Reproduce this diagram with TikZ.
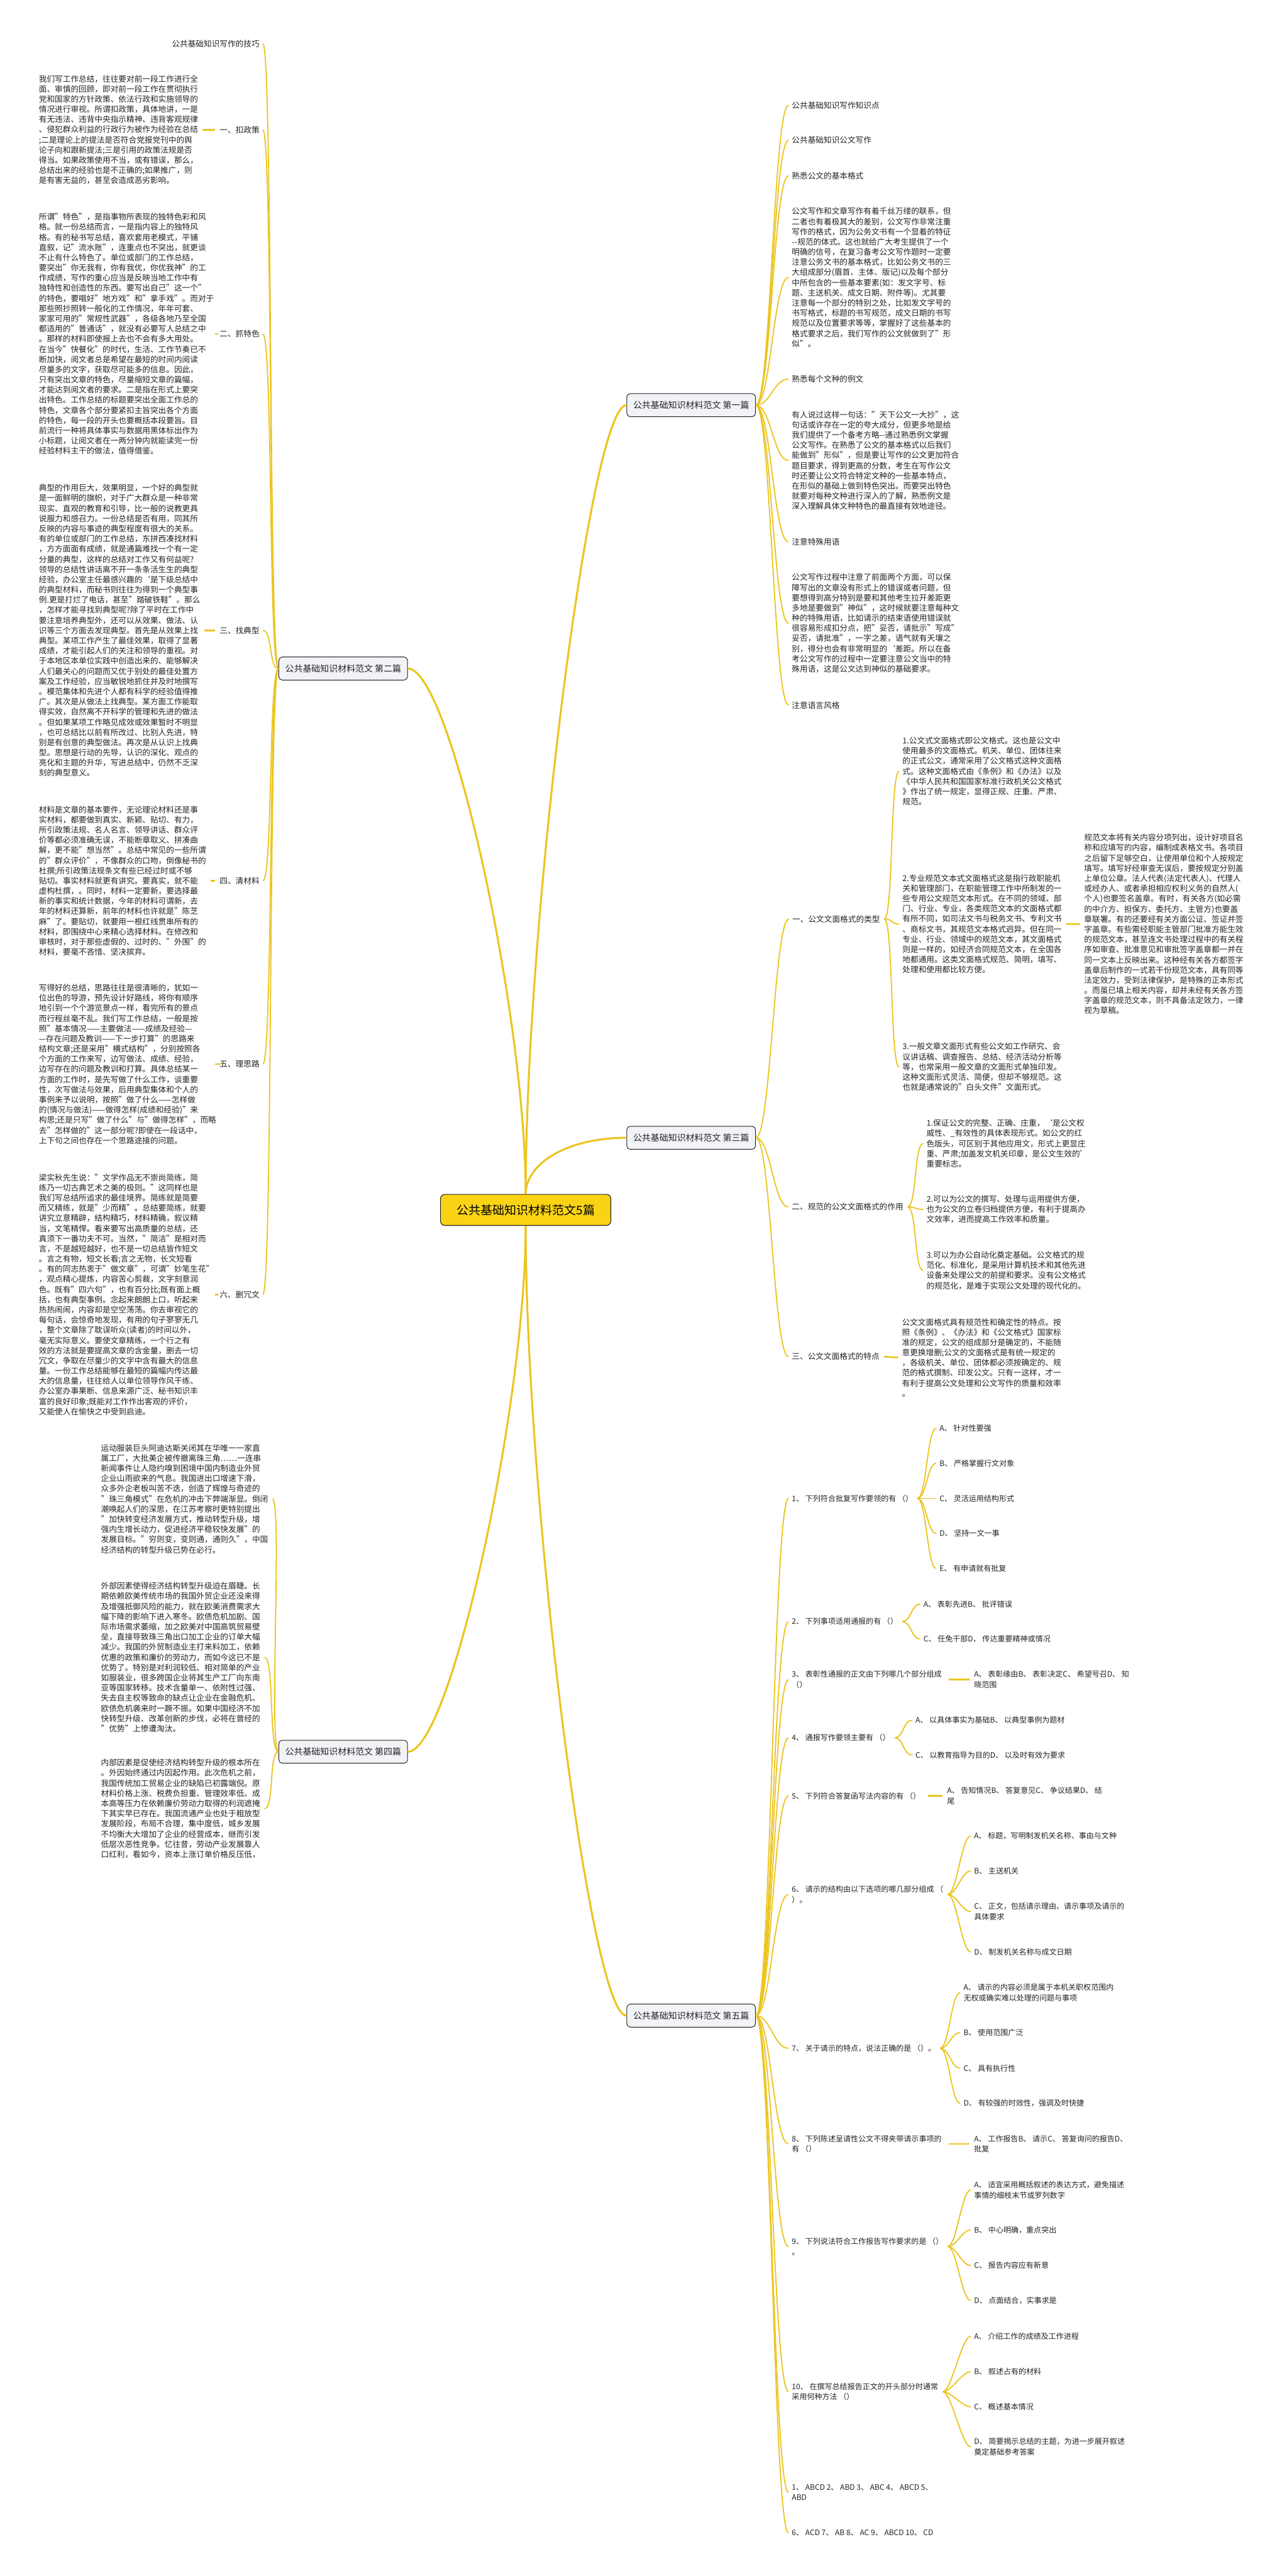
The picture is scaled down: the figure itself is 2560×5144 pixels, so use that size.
\documentclass[tikz,border=0pt]{standalone}
\usepackage{fontspec}
\setmainfont{Noto Sans CJK SC}
\usetikzlibrary{calc}
\definecolor{gold}{RGB}{236,196,30}
\definecolor{ink}{RGB}{35,35,35}
\definecolor{topicfill}{RGB}{241,243,246}
\definecolor{rootfill}{RGB}{250,212,20}
\begin{document}
\begin{tikzpicture}[x=0.01cm,y=-0.01cm,
    txt/.style={inner sep=0pt,align=left,text=ink,font=\fontsize{4.52}{5.78}\selectfont},
    qtxt/.style={inner sep=0pt,align=left,text=ink,font=\fontsize{4.3}{5.98}\selectfont},
    topic/.style={draw=ink,fill=topicfill,rounded corners=2pt,line width=0.35pt,minimum width=2.57cm,minimum height=0.46cm,inner sep=0pt,text=ink,font=\fontsize{4.98}{6}\selectfont},
    root/.style={draw=ink,fill=rootfill,rounded corners=2.5pt,line width=0.4pt,minimum width=3.4cm,minimum height=0.62cm,inner sep=0pt,text=black,font=\fontsize{6.8}{8}\selectfont},
    bough/.style={draw=gold,line width=1.1pt},
    twig/.style={draw=gold,line width=0.65pt},
    tie/.style={draw=gold,line width=0.9pt}]
    \useasboundingbox (0,0) rectangle (2560,5144);
    \fill[white] (0,0) rectangle (2560,5144);

    \node[root] (m) at (1050,2416) {公共基础知识材料范文5篇};
    \node[topic] (n1) at (1380.5,809) {公共基础知识材料范文 第一篇};
    \node[topic] (n2) at (685.5,1335) {公共基础知识材料范文 第二篇};
    \node[topic] (n3) at (1380.5,2272) {公共基础知识材料范文 第三篇};
    \node[topic] (n4) at (685.5,3498) {公共基础知识材料范文 第四篇};
    \node[topic] (n5) at (1380.5,4025) {公共基础知识材料范文 第五篇};

    \draw[bough] (m.north) .. controls +(0,-536) and +(-73,0) .. (n1.west);
    \draw[bough] (m.north) .. controls +(0,-357) and +(85,0) .. (n2.east);
    \draw[bough] (m.north) .. controls +(0,-60) and +(-120,0) .. (n3.west);
    \draw[bough] (m.south) .. controls +(0,357) and +(85,0) .. (n4.east);
    \draw[bough] (m.south) .. controls +(0,536) and +(-73,0) .. (n5.west);

    \node[txt,anchor=east] (w0) at (519,87) {公共基础知识写作的技巧};
    \node[txt,anchor=west] (p1) at (77,259) {我们写工作总结，往往要对前一段工作进行全\\面、审慎的回顾，即对前一段工作在贯彻执行\\党和国家的方针政策、依法行政和实施领导的\\情况进行审视。所谓扣政策，具体地讲，一是\\有无违法、违背中央指示精神、违背客观规律\\、侵犯群众利益的行政行为被作为经验在总结\\;二是理论上的提法是否符合党报党刊中的舆\\论子向和跟新提法;三是引用的政策法规是否\\得当。如果政策使用不当，或有错误，那么，\\总结出来的经验也是不正确的;如果推广，则\\是有害无益的，甚至会造成恶劣影响。};
    \node[txt,anchor=east] (l1) at (519,259) {一、扣政策};
    \node[txt,anchor=west] (p2) at (77,667) {所谓"特色"，是指事物所表现的独特色彩和风\\格。就一份总结而言，一是指内容上的独特风\\格。有的秘书写总结，喜欢套用老模式，平铺\\直叙，记"流水账"，连重点也不突出，就更谈\\不止有什么特色了。单位或部门的工作总结，\\要突出"你无我有，你有我优，你优我神"的工\\作成绩，写作的重心应当是反映当地工作中有\\独特性和创造性的东西。要写出自己"这一个"\\的特色，要唱好"地方戏"和"拿手戏"。而对于\\那些照抄照转一般化的工作情况，年年可套、\\家家可用的"常规性武器"，各级各地乃至全国\\都适用的"普通话"，就没有必要写人总结之中\\。那样的材料即使报上去也不会有多大用处。\\在当今"快餐化"的时代，生活、工作节奏已不\\断加快，阅文者总是希望在最短的时间内阅读\\尽量多的文字，获取尽可能多的信息。因此，\\只有突出文章的特色，尽量缩短文章的篇幅，\\才能达到阅文者的要求。二是指在形式上要突\\出特色。工作总结的标题要突出全面工作总的\\特色，文章各个部分要紧扣主旨突出各个方面\\的特色，每一段的开头也要概括本段要旨。目\\前流行一种将具体事实与数据用黑体标出作为\\小标题，让阅文者在一两分钟内就能读完一份\\经验材料主干的做法，值得借鉴。};
    \node[txt,anchor=east] (l2) at (519,667) {二、抓特色};
    \node[txt,anchor=west] (p3) at (77,1259) {典型的作用巨大，效果明显，一个好的典型就\\是一面鲜明的旗帜，对于广大群众是一种非常\\现实、直观的教育和引导，比一般的说教更具\\说服力和感召力。一份总结是否有用，同其所\\反映的内容与事迹的典型程度有很大的关系。\\有的单位或部门的工作总结，东拼西凑找材料\\，方方面面有成绩，就是通篇难找一个有一定\\分量的典型，这样的总结对工作又有何益呢?\\领导的总结性讲话离不开一条条活生生的典型\\经验，办公室主任最感兴趣的`是下级总结中\\的典型材料，而秘书则往往为得到一个典型事\\例.更是打烂了电话，甚至"踏破铁鞋"。那么\\，怎样才能寻找到典型呢?除了平时在工作中\\要注意培养典型外，还可以从效果、做法、认\\识等三个方面去发现典型。首先是从效果上找\\典型。某项工作产生了最佳效果，取得了显著\\成绩，才能引起人们的关注和领导的重视。对\\于本地区本单位实践中创造出来的、能够解决\\人们最关心的问题而又优于别处的最佳处置方\\案及工作经验，应当敏锐地抓住并及时地撰写\\。模范集体和先进个人都有科学的经验值得推\\广。其次是从做法上找典型。某方面工作能取\\得实效，自然离不开科学的管理和先进的做法\\。但如果某项工作略见成效或效果暂时不明显\\，也可总结比以前有所改过、比别人先进，特\\别是有创意的典型做法。再次是从认识上找典\\型。思想是行动的先导，认识的深化、观点的\\亮化和主题的升华，写进总结中，仍然不乏深\\刻的典型意义。};
    \node[txt,anchor=east] (l3) at (519,1259) {三、找典型};
    \node[txt,anchor=west] (p4) at (77,1759) {材料是文章的基本要件，无论理论材料还是事\\实材料，都要做到真实、新颖、贴切、有力，\\所引政策法规、名人名言、领导讲话、群众评\\价等都必须准确无误，不能断章取义、拼凑曲\\解，更不能"想当然"。总结中常见的一些所谓\\的"群众评价"，不像群众的口吻，倒像秘书的\\杜撰;所引政策法规条文有些已经过时或不够\\贴切。事实材料就更有讲究。要真实，就不能\\虚构杜撰，。同时，材料一定要新，要选择最\\新的事实和统计数据，今年的材料可谓新，去\\年的材料还算新，前年的材料也许就是"陈芝\\麻"了。要贴切，就要用一根红线贯串所有的\\材料，即围绕中心来精心选择材料。在修改和\\审核时，对于那些虚假的、过时的、"外围"的\\材料，要毫不吝惜、坚决摈弃。};
    \node[txt,anchor=east] (l4) at (519,1759) {四、清材料};
    \node[txt,anchor=west] (p5) at (77,2125) {写得好的总结，思路往往是很清晰的，犹如一\\位出色的导游，预先设计好路线，将你有顺序\\地引到一个个游览景点一样，看完所有的景点\\而行程丝毫不乱。我们写工作总结，一般是按\\照"基本情况——主要做法——成绩及经验—\\—存在问题及教训——下一步打算"的思路来\\结构文章;还是采用"横式结构"，分别按照各\\个方面的工作来写，边写做法、成绩、经验，\\边写存在的问题及教训和打算。具体总结某一\\方面的工作时，是先写做了什么工作，谈重要\\性，次写做法与效果，后用典型集体和个人的\\事例来予以说明，按照"做了什么——怎样做\\的(情况与做法)——做得怎样(成绩和经验)"来\\构思;还是只写"做了什么"与"做得怎样"，而略\\去"怎样做的"这一部分呢?即使在一段话中，\\上下句之间也存在一个思路途接的问题。};
    \node[txt,anchor=east] (l5) at (519,2125) {五、理思路};
    \node[txt,anchor=west] (p6) at (77,2585) {梁实秋先生说："文学作品无不崇尚简练，简\\练乃一切古典艺术之美的极则。"这同样也是\\我们写总结所追求的最佳境界。简练就是简要\\而又精练，就是"少而精"。总结要简练，就要\\讲究立意精辟，结构精巧，材料精确，叙议精\\当，文笔精悍。看来要写出高质量的总结，还\\真须下一番功夫不可。当然，"简洁"是相对而\\言，不是越短越好，也不是一切总结皆作短文\\。言之有物，短文长看;言之无物，长文短看\\。有的同志热衷于"做文章"，可谓"妙笔生花"\\，观点精心提炼，内容苦心剪裁，文字刻意润\\色。既有"四六句"，也有百分比;既有面上概\\括，也有典型事例。念起来朗朗上口，听起来\\热热闹闹，内容却是空空荡荡。你去审视它的\\每句话，会惊奇地发现，有用的句子寥寥无几\\，整个文章除了耽误听众(读者)的时间以外，\\毫无实际意义。要使文章精练，一个行之有\\效的方法就是要提高文章的含金量，删去一切\\冗文，争取在尽量少的文字中含有最大的信息\\量。一份工作总结能够在最短的篇幅内传达最\\大的信息量，往往给人以单位领导作风干练、\\办公室办事果断、信息来源广泛、秘书知识丰\\富的良好印象;既能对工作作出客观的评价，\\又能使人在愉快之中受到启迪。};
    \node[txt,anchor=east] (l6) at (519,2585) {六、删冗文};

    \draw[twig] (n2.west) .. controls +(-20,0) and +(20,0) .. ($(w0.east)+(6,0)$);
    \foreach \k in {1,...,6} {
        \draw[twig] (n2.west) .. controls +(-20,0) and +(20,0) .. ($(l\k.east)+(6,0)$);
        \draw[tie] ($(p\k.east)+(8,0)$) -- ($(l\k.west)+(-9,0)$);
    }

    \node[txt,anchor=west] (pa) at (201,2993) {运动服装巨头阿迪达斯关闭其在华唯一一家直\\属工厂，大批美企被传撤离珠三角……一连串\\新闻事件让人隐约嗅到困境中国内制造业外贸\\企业山雨欲来的气息。我国进出口增速下滑，\\众多外企老板叫苦不迭，创造了辉煌与奇迹的\\"珠三角模式"在危机的冲击下弊端渐显。倒闭\\潮唤起人们的深思，在江苏考察时更特别提出\\"加快转变经济发展方式，推动转型升级，增\\强内生增长动力，促进经济平稳较快发展"的\\发展目标。"穷则变，变则通，通则久"，中国\\经济结构的转型升级已势在必行。};
    \node[txt,anchor=west] (pb) at (201,3309.5) {外部因素使得经济结构转型升级迫在眉睫。长\\期依赖欧美传统市场的我国外贸企业还没来得\\及增强抵御风险的能力，就在欧美消费需求大\\幅下降的影响下进入寒冬。欧债危机加剧、国\\际市场需求萎缩，加之欧美对中国高筑贸易壁\\垒，直接导致珠三角出口加工企业的订单大幅\\减少。我国的外贸制造业主打来料加工，依赖\\优惠的政策和廉价的劳动力，而如今这已不是\\优势了。特别是对利润较低、相对简单的产业\\如服装业，很多跨国企业将其生产工厂向东南\\亚等国家转移。技术含量单一、依附性过强、\\失去自主权等致命的缺点让企业在金融危机、\\欧债危机袭来时一蹶不振。如果中国经济不加\\快转型升级、改革创新的步伐，必将在曾经的\\"优势"上惨遭淘汰。};
    \node[txt,anchor=north west] (pc) at (201,3512) {内部因素是促使经济结构转型升级的根本所在\\。外因始终通过内因起作用。此次危机之前，\\我国传统加工贸易企业的缺陷已初露端倪。原\\材料价格上涨、税费负担重、管理效率低、成\\本高等压力在依赖廉价劳动力取得的利润遮掩\\下其实早已存在。我国流通产业也处于粗放型\\发展阶段，布局不合理，集中度低，城乡发展\\不均衡大大增加了企业的经营成本，继而引发\\低层次恶性竞争。忆往昔，劳动产业发展靠人\\口红利，看如今，资本上涨订单价格反压低，};
    \foreach \k in {a,b,c} {
        \draw[twig] (n4.west) .. controls +(-20,0) and +(20,0) .. ($(p\k.east)+(8,0)$);
    }

    \node[txt,anchor=west] (k1) at (1581,210) {公共基础知识写作知识点};
    \node[txt,anchor=west] (k2) at (1581,280) {公共基础知识公文写作};
    \node[txt,anchor=west] (k3) at (1581,351) {熟悉公文的基本格式};
    \node[txt,anchor=west] (k4) at (1581,554) {公文写作和文章写作有着千丝万缕的联系，但\\二者也有着极其大的差别，公文写作非常注重\\写作的格式，因为公务文书有一个显着的特征\\-{}-规范的体式。这也就给广大考生提供了一个\\明确的信号，在复习备考公文写作题时一定要\\注意公务文书的基本格式，比如公务文书的三\\大组成部分(眉首、主体、版记)以及每个部分\\中所包含的一些基本要素(如：发文字号、标\\题、主送机关、成文日期、附件等)。尤其要\\注意每一个部分的特别之处，比如发文字号的\\书写格式，标题的书写规范，成文日期的书写\\规范以及位置要求等等，掌握好了这些基本的\\格式要求之后，我们写作的公文就做到了"形\\似"。};
    \node[txt,anchor=west] (k5) at (1581,757) {熟悉每个文种的例文};
    \node[txt,anchor=west] (k6) at (1581,919.5) {有人说过这样一句话："天下公文一大抄"，这\\句话或许存在一定的夸大成分，但更多地是给\\我们提供了一个备考方略-{}-通过熟悉例文掌握\\公文写作。在熟悉了公文的基本格式以后我们\\能做到"形似"，但是要让写作的公文更加符合\\题目要求，得到更高的分数，考生在写作公文\\时还要让公文符合特定文种的一些基本特点，\\在形似的基础上做到特色突出。而要突出特色\\就要对每种文种进行深入的了解，熟悉例文是\\深入理解具体文种特色的最直接有效地途径。};
    \node[txt,anchor=west] (k7) at (1581,1082) {注意特殊用语};
    \node[txt,anchor=west] (k8) at (1581,1244.5) {公文写作过程中注意了前面两个方面，可以保\\障写出的文章没有形式上的错误或者问题，但\\要想得到高分特别是要和其他考生拉开差距更\\多地是要做到"神似"，这时候就要注意每种文\\种的特殊用语，比如请示的结束语使用错误就\\很容易形成扣分点，把"妥否，请批示"写成"\\妥否，请批准"，一字之差，语气就有天壤之\\别，得分也会有非常明显的`差距。所以在备\\考公文写作的过程中一定要注意公文当中的特\\殊用语，这是公文达到神似的基础要求。};
    \node[txt,anchor=west] (k9) at (1581,1408) {注意语言风格};
    \foreach \k in {1,...,9} {
        \draw[twig] (n1.east) .. controls +(30,0) and +(-30,0) .. ($(k\k.west)+(-6,0)$);
    }

    \node[txt,anchor=west] (t1) at (1582,1835) {一、公文文面格式的类型};
    \node[txt,anchor=west] (t1a) at (1802,1540) {1.公文式文面格式即公文格式。这也是公文中\\使用最多的文面格式。机关、单位、团体往来\\的正式公文，通常采用了公文格式这种文面格\\式。这种文面格式由《条例》和《办法》以及\\《中华人民共和国国家标准行政机关公文格式\\》作出了统一规定，显得正规、庄重、严肃、\\规范。};
    \node[txt,anchor=west] (t1b) at (1802,1845) {2.专业规范文本式文面格式这是指行政职能机\\关和管理部门，在职能管理工作中所制发的一\\些专用公文规范文本形式。在不同的领域、部\\门、行业、专业，各类规范文本的文面格式都\\有所不同，如司法文书与税务文书、专利文书\\、商标文书，其规范文本格式迥异。但在同一\\专业、行业、领域中的规范文本，其文面格式\\则是一样的，如经济合同规范文本，在全国各\\地都通用。这类文面格式规范、简明，填写、\\处理和使用都比较方便。};
    \node[txt,anchor=west] (t1c) at (2165,1845.5) {规范文本将有关内容分项列出，设计好项目名\\称和应填写的内容，编制成表格文书。各项目\\之后留下足够空白，让使用单位和个人按规定\\填写。填写好经审查无误后，要按规定分别盖\\上单位公章。法人代表(法定代表人)、代理人\\或经办人、或者承担相应权利义务的自然人(\\个人)也要签名盖章。有时，有关各方(如必需\\的中介方、担保方、委托方、主管方)也要盖\\章联署。有的还要经有关方面公证、签证并签\\字盖章。有些需经职能主管部门批准方能生效\\的规范文本，甚至连文书处理过程中的有关程\\序如审查、批准意见和审批签字盖章都一并在\\同一文本上反映出来。这种经有关各方都签字\\盖章后制作的一式若干份规范文本，具有同等\\法定效力，受到法律保护，是特殊的正本形式\\。而虽已填上相关内容，却并未经有关各方签\\字盖章的规范文本，则不具备法定效力，一律\\视为草稿。};
    \node[txt,anchor=west] (t1d) at (1802,2130.5) {3.一般文章文面形式有些公文如工作研究、会\\议讲话稿、调查报告、总结、经济活动分析等\\等，也常采用一般文章的文面形式单独印发。\\这种文面形式灵活、简便，但却不够规范。这\\也就是通常说的"白头文件"文面形式。};
    \node[txt,anchor=west] (t2) at (1581,2410) {二、规范的公文文面格式的作用};
    \node[txt,anchor=west] (t2a) at (1850,2283.5) {1.保证公文的完整、正确、庄重，‘是公文权\\威性、\_有效性的具体表现形式。如公文的红\\色版头，可区别于其他应用文，形式上更显庄\\重、严肃;加盖发文机关印章，是公文生效的'\\重要标志。};
    \node[txt,anchor=west] (t2b) at (1850,2415) {2.可以为公文的撰写、处理与运用提供方便，\\也为公文的立卷归档提供方便，有利于提高办\\文效率，进而提高工作效率和质量。};
    \node[txt,anchor=west] (t2c) at (1850,2537) {3.可以为办公自动化奠定基础。公文格式的规\\范化、标准化，是采用计算机技术和其他先进\\设备来处理公文的前提和要求。没有公文格式\\的规范化，是难于实现公文处理的现代化的。};
    \node[txt,anchor=west] (t3) at (1581,2709) {三、公文文面格式的特点};
    \node[txt,anchor=west] (t3a) at (1801,2711) {公文文面格式具有规范性和确定性的特点。按\\照《条例》、《办法》和《公文格式》国家标\\准的规定，公文的组成部分是确定的，不能随\\意更换增删;公文的文面格式是有统一规定的\\，各级机关、单位、团体都必须按确定的、规\\范的格式撰制、印发公文。只有一这样，才一\\有利于提高公文处理和公文写作的质量和效率\\。};
    \foreach \k in {1,2,3} {
        \draw[twig] (n3.east) .. controls +(30,0) and +(-30,0) .. ($(t\k.west)+(-6,0)$);
    }
    \foreach \k in {a,b,d} {
        \draw[twig] ($(t1.east)+(8,0)$) .. controls +(18,0) and +(-18,0) .. ($(t1\k.west)+(-6,0)$);
    }
    \draw[tie] ($(t1b.east)+(8,0)$) -- ($(t1c.west)+(-8,0)$);
    \foreach \k in {a,b,c} {
        \draw[twig] ($(t2.east)+(8,0)$) .. controls +(18,0) and +(-18,0) .. ($(t2\k.west)+(-6,0)$);
    }
    \draw[tie] ($(t3.east)+(8,0)$) -- ($(t3a.west)+(-7,0)$);

    \node[qtxt,anchor=west] (q1) at (1581,2992) {1、 下列符合批复写作要领的有 （）};
    \node[qtxt,anchor=west] (q1a) at (1876,2852) {A、 针对性要强};
    \node[qtxt,anchor=west] (q1b) at (1876,2922) {B、 严格掌握行文对象};
    \node[qtxt,anchor=west] (q1c) at (1876,2992) {C、 灵活运用结构形式};
    \node[qtxt,anchor=west] (q1d) at (1876,3062) {D、 坚持一文一事};
    \node[qtxt,anchor=west] (q1e) at (1876,3132) {E、 有申请就有批复};
    \node[qtxt,anchor=west] (q2) at (1581,3238) {2、 下列事项适用通报的有 （）};
    \node[qtxt,anchor=west] (q2a) at (1844,3203) {A、 表彰先进B、 批评错误};
    \node[qtxt,anchor=west] (q2b) at (1844,3273) {C、 任免干部D、 传达重要精神或情况};
    \node[qtxt,anchor=west] (q3) at (1581,3354) {3、 表彰性通报的正文由下列哪几个部分组成\\（）};
    \node[qtxt,anchor=west] (q3a) at (1945,3354) {A、 表彰缘由B、 表彰决定C、 希望号召D、 知\\晓范围};
    \node[qtxt,anchor=west] (q4) at (1581,3470) {4、 通报写作要领主要有 （）};
    \node[qtxt,anchor=west] (q4a) at (1828,3435) {A、 以具体事实为基础B、 以典型事例为题材};
    \node[qtxt,anchor=west] (q4b) at (1828,3505) {C、 以教育指导为目的D、 以及时有效为要求};
    \node[qtxt,anchor=west] (q5) at (1581,3586) {5、 下列符合答复函写法内容的有 （）};
    \node[qtxt,anchor=west] (q5a) at (1891,3586) {A、 告知情况B、 答复意见C、 争议结果D、 结\\尾};
    \node[qtxt,anchor=west] (q6) at (1581,3783) {6、 请示的结构由以下选项的哪几部分组成 （\\）。};
    \node[qtxt,anchor=west] (q6a) at (1945,3666) {A、 标题，写明制发机关名称、事由与文种};
    \node[qtxt,anchor=west] (q6b) at (1945,3736) {B、 主送机关};
    \node[qtxt,anchor=west] (q6c) at (1945,3817) {C、 正文，包括请示理由、请示事项及请示的\\具体要求};
    \node[qtxt,anchor=west] (q6d) at (1945,3898) {D、 制发机关名称与成文日期};
    \node[qtxt,anchor=west] (q7) at (1581,4090) {7、 关于请示的特点，说法正确的是 （）。};
    \node[qtxt,anchor=west] (q7a) at (1924,3979) {A、 请示的内容必须是属于本机关职权范围内\\无权或确实难以处理的问题与事项};
    \node[qtxt,anchor=west] (q7b) at (1924,4059) {B、 使用范围广泛};
    \node[qtxt,anchor=west] (q7c) at (1924,4130) {C、 具有执行性};
    \node[qtxt,anchor=west] (q7d) at (1924,4200) {D、 有较强的时效性，强调及时快捷};
    \node[qtxt,anchor=west] (q8) at (1581,4281) {8、 下列陈述呈请性公文不得夹带请示事项的\\有 （）};
    \node[qtxt,anchor=west] (q8a) at (1945,4281) {A、 工作报告B、 请示C、 答复询问的报告D、\\批复};
    \node[qtxt,anchor=west] (q9) at (1581,4486) {9、 下列说法符合工作报告写作要求的是 （）\\。};
    \node[qtxt,anchor=west] (q9a) at (1945,4373) {A、 适宜采用概括叙述的表达方式，避免描述\\事情的细枝末节或罗列数字};
    \node[qtxt,anchor=west] (q9b) at (1945,4453) {B、 中心明确，重点突出};
    \node[qtxt,anchor=west] (q9c) at (1945,4524) {C、 报告内容应有新意};
    \node[qtxt,anchor=west] (q9d) at (1945,4594) {D、 点面结合，实事求是};
    \node[qtxt,anchor=west] (q10) at (1581,4776) {10、 在撰写总结报告正文的开头部分时通常\\采用何种方法 （）};
    \node[qtxt,anchor=west] (q10a) at (1945,4665) {A、 介绍工作的成绩及工作进程};
    \node[qtxt,anchor=west] (q10b) at (1945,4736) {B、 叙述占有的材料};
    \node[qtxt,anchor=west] (q10c) at (1945,4806) {C、 概述基本情况};
    \node[qtxt,anchor=west] (q10d) at (1945,4886) {D、 简要揭示总结的主题，为进一步展开叙述\\奠定基础参考答案};
    \node[qtxt,anchor=west] (q11) at (1581,4977) {1、 ABCD 2、 ABD 3、 ABC 4、 ABCD 5、\\ABD};
    \node[qtxt,anchor=west] (q12) at (1581,5058) {6、 ACD 7、 AB 8、 AC 9、 ABCD 10、 CD};
    \foreach \k in {1,...,12} {
        \draw[twig] (n5.east) .. controls +(30,0) and +(-30,0) .. ($(q\k.west)+(-6,0)$);
    }
    \foreach \q/\a in {1/a,1/b,1/c,1/d,1/e,2/a,2/b,4/a,4/b,6/a,6/b,6/c,6/d,7/a,7/b,7/c,7/d,9/a,9/b,9/c,9/d,10/a,10/b,10/c,10/d} {
        \draw[twig] ($(q\q.east)+(8,0)$) .. controls +(18,0) and +(-18,0) .. ($(q\q\a.west)+(-6,0)$);
    }
    \foreach \q in {3,5,8} {
        \draw[tie] ($(q\q.east)+(14,0)$) -- ($(q\q a.west)+(-8,0)$);
    }
\end{tikzpicture}
\end{document}
